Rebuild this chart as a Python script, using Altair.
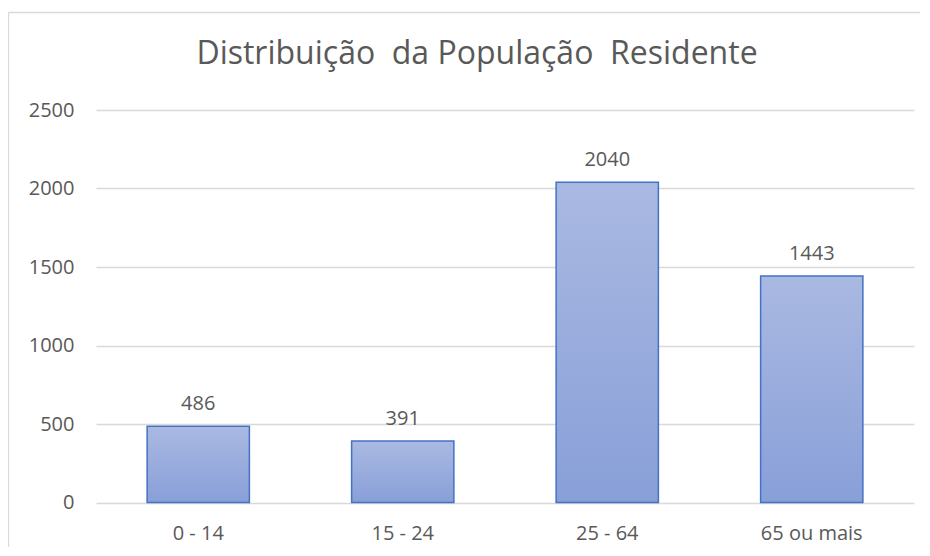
import altair as alt
import pandas as pd

categories = ["0 - 14", "15 - 24", "25 - 64", "65 ou mais"]
values = [486, 391, 2040, 1443]
y_ticks = [0, 500, 1000, 1500, 2000, 2500]
title_text = "Distribuição\u00a0 da População\u00a0 Residente"

df = pd.DataFrame({"cat": categories, "val": values})

FONT = "Open Sans"
TXT = "#595959"
GRID = "#D9D9D9"

x_enc = alt.X("cat:N", sort=categories,
              scale=alt.Scale(paddingInner=0.5, paddingOuter=0.25),
              axis=alt.Axis(title=None, labelAngle=0, domain=False, ticks=False, grid=False,
                            labelFont=FONT, labelFontSize=20, labelColor=TXT, labelPadding=21))
y_enc = alt.Y("val:Q", scale=alt.Scale(domain=[0, 2500], nice=False),
              axis=alt.Axis(title=None, values=y_ticks, format="d", domain=False, ticks=False,
                            grid=True, gridColor=GRID, gridWidth=1.3,
                            labelFont=FONT, labelFontSize=20, labelColor=TXT, labelPadding=22))

grad = alt.LinearGradient(gradient="linear",
                          stops=[alt.GradientStop(offset=0, color="#AAB9E2"),
                                 alt.GradientStop(offset=1, color="#889FD8")],
                          x1=0, x2=0, y1=0, y2=1)

bars = alt.Chart(df).mark_bar(color=grad, stroke="#4472C4", strokeWidth=1.5).encode(x=x_enc, y=y_enc)

labels = alt.Chart(df).mark_text(font=FONT, fontSize=20, color=TXT, baseline="alphabetic", dy=-16).encode(
    x=alt.X("cat:N", sort=categories), y="val:Q", text="val:Q")

one = alt.Data(values=[{"a": 1}])
border_top = alt.Chart(one).mark_rule(color=GRID, strokeWidth=1.3).encode(
    x=alt.value(-87.5), x2=alt.value(900), y=alt.value(-97.5))
border_left = alt.Chart(one).mark_rule(color=GRID, strokeWidth=1.3).encode(
    x=alt.value(-87.5), y=alt.value(-97.5), y2=alt.value(700))

title = alt.Chart(alt.Data(values=[{"t": title_text}])).mark_text(
    font=FONT, fontSize=32, color=TXT, baseline="alphabetic", align="center").encode(
    x=alt.value(381), y=alt.value(-46), text="t:N")

chart = alt.layer(border_top, border_left, bars, labels, title).properties(
    width=818, height=392.5,
    autosize=alt.AutoSizeParams(type="none"),
    padding={"left": 88, "top": 102, "right": 6, "bottom": 44},
).configure_view(stroke=None)

chart.save("out.html", embed_options={"renderer": "svg", "actions": False})
